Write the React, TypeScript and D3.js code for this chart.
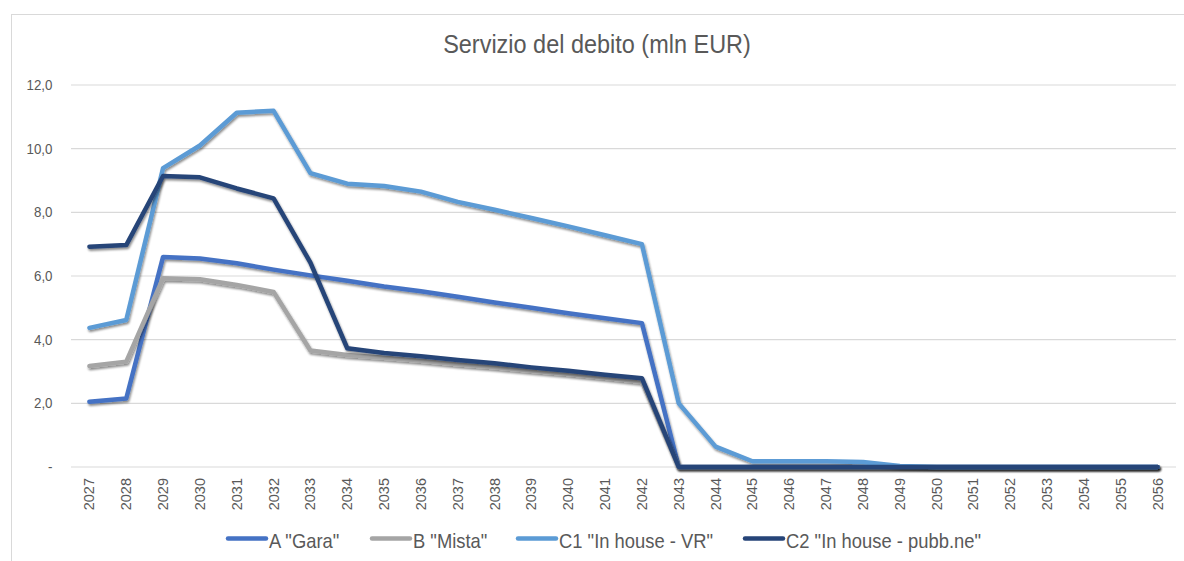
import React from 'react';
import * as d3 from 'd3';

const years = ['2027','2028','2029','2030','2031','2032','2033','2034','2035','2036','2037','2038','2039','2040','2041','2042','2043','2044','2045','2046','2047','2048','2049','2050','2051','2052','2053','2054','2055','2056'];

const seriesA = [2.05,2.15,6.6,6.55,6.4,6.2,6.02,5.85,5.67,5.52,5.35,5.17,5.0,4.83,4.67,4.52,0,0,0,0,0,0,0,0,0,0,0,0,0,0];
const seriesB = [3.17,3.31,5.93,5.9,5.72,5.5,3.66,3.52,3.43,3.34,3.23,3.13,3.02,2.92,2.8,2.68,0,0,0,0,0,0,0,0,0,0,0,0,0,0];
const seriesC1 = [4.37,4.62,9.39,10.1,11.13,11.19,9.23,8.9,8.83,8.65,8.33,8.08,7.82,7.56,7.28,7.0,2.0,0.64,0.18,0.18,0.18,0.16,0.03,0,0,0,0,0,0,0];
const seriesC2 = [6.92,6.97,9.14,9.1,8.75,8.44,6.42,3.73,3.58,3.48,3.36,3.26,3.13,3.02,2.9,2.79,0,0,0,0,0,0,0,0,0,0,0,0,0,0];

const seriesNames = ['A "Gara"', 'B "Mista"', 'C1 "In house - VR"', 'C2 "In house - pubb.ne"'];
const seriesColors = ['#4472C4', '#A5A5A5', '#5B9BD5', '#264478'];
const yTicks = [0, 2, 4, 6, 8, 10, 12];
const yTickLabels = ['-', '2,0', '4,0', '6,0', '8,0', '10,0', '12,0'];

const FONT = '"Liberation Sans", Arial, sans-serif';
const TXT = '#595959';
const SX = 0.92; // source looks squeezed horizontally

export default function App() {
  const width = 1184;
  const height = 561;
  const left = 71, right = 1176, top = 85, bottom = 467;

  const x = d3.scaleBand<string>().domain(years).range([left, right]);
  const y = d3.scaleLinear().domain([0, 12]).range([bottom, top]);
  const cx = (d: string) => (x(d) as number) + x.bandwidth() / 2;

  const line = d3.line<number>()
    .x((d, i) => cx(years[i]))
    .y(d => y(d));

  const all = [seriesA, seriesB, seriesC1, seriesC2];
  const legendX = [228, 372, 518, 745];

  return (
    <svg width={width} height={height} style={{ position: 'absolute', left: 0, top: 0, background: '#fff' }}>
      <defs>
        <filter id="sh" x="-5%" y="-10%" width="110%" height="130%">
          <feDropShadow dx="1" dy="2" stdDeviation="1.3" floodColor="#000" floodOpacity="0.45" />
        </filter>
      </defs>
      <rect x={11.5} y={14.5} width={1200} height={600} fill="#fff" stroke="#d9d9d9" strokeWidth={1} />

      <text transform={`translate(597,53) scale(${SX},1)`} textAnchor="middle" fontFamily={FONT} fontSize={25.5} fill={TXT}>
        Servizio del debito (mln EUR)
      </text>

      {yTicks.map((t, i) => (
        <g key={t}>
          <line x1={left} x2={right} y1={y(t)} y2={y(t)} stroke="#d9d9d9" strokeWidth={1.2} />
          <text transform={`translate(52.5,${y(t) + 5}) scale(${SX},1)`} textAnchor="end" fontFamily={FONT} fontSize={14.5} fill={TXT}>
            {yTickLabels[i]}
          </text>
        </g>
      ))}

      {years.map(yr => (
        <text key={yr} transform={`translate(${cx(yr)},478) rotate(-90)`} textAnchor="end" dominantBaseline="central" fontFamily={FONT} fontSize={14.5} fill={TXT}>
          {yr}
        </text>
      ))}

      {all.map((s, i) => (
        <path key={i} d={line(s) || ''} fill="none" stroke={seriesColors[i]} strokeWidth={4.5}
          strokeLinejoin="round" strokeLinecap="round" filter="url(#sh)" />
      ))}

      {seriesNames.map((n, i) => (
        <g key={n}>
          <line x1={legendX[i]} x2={legendX[i] + 38} y1={538.5} y2={538.5} stroke={seriesColors[i]} strokeWidth={4.5} strokeLinecap="round" />
          <text transform={`translate(${legendX[i] + 41},547.5) scale(${SX},1)`} fontFamily={FONT} fontSize={20} fill={TXT}>
            {n}
          </text>
        </g>
      ))}
    </svg>
  );
}
